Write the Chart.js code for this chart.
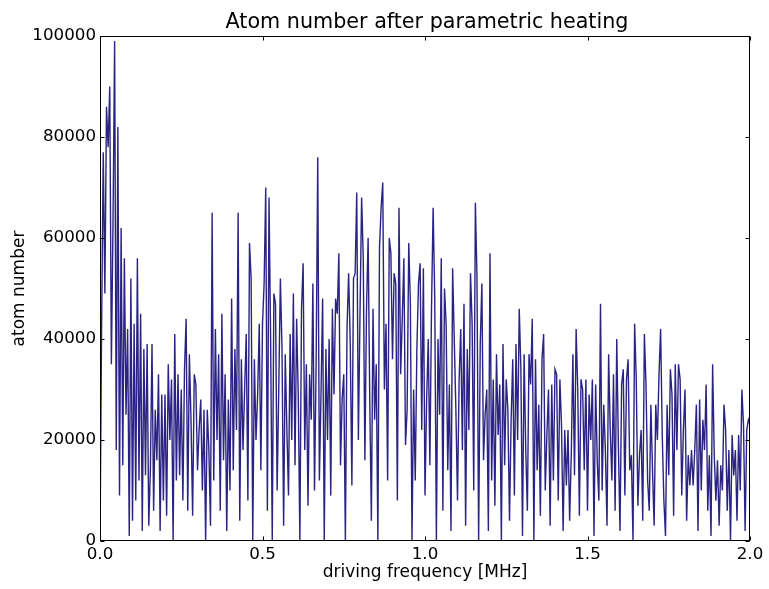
<!DOCTYPE html>
<html>
<head>
<meta charset="utf-8">
<title>Atom number after parametric heating</title>
<script src="https://cdn.jsdelivr.net/npm/chart.js@4/dist/chart.umd.min.js"></script>
<style>
  html, body { margin: 0; padding: 0; background: #fff; }
  #wrap { width: 769px; height: 589px; }
</style>
</head>
<body>
<div id="wrap"><canvas id="chart" width="769" height="589"></canvas></div>
<script>
// frequency sweep: 0 to 2.0 MHz in 5 kHz steps
const freqStart = 0;
const freqStep = 0.005;

// atom number left after each heating run, one row per 0.1 MHz
const atomNumber = [
  0, 43000, 77000, 49000, 86000, 78000, 90000, 35000, 63000, 99000, 18000, 82000, 9000, 62000, 15000, 56000, 25000, 42000, 1000, 52000,
  4000, 43000, 8000, 56000, 12000, 45000, 2000, 38000, 13000, 39000, 3000, 14000, 39000, 6000, 26000, 16000, 33000, 2000, 29000, 8000,
  29000, 5000, 35000, 20000, 32000, 0, 41000, 12000, 33000, 13000, 30000, 8000, 34000, 44000, 6000, 37000, 24000, 5000, 33000, 31000,
  14000, 22000, 28000, 10000, 26000, 0, 26000, 18000, 3000, 65000, 12000, 42000, 20000, 37000, 6000, 45000, 16000, 33000, 2000, 28000,
  10000, 48000, 14000, 38000, 22000, 65000, 4000, 36000, 18000, 30000, 41000, 8000, 59000, 52000, 0, 36000, 20000, 29000, 43000, 14000,
  43000, 51000, 70000, 6000, 68000, 40000, 0, 49000, 47000, 10000, 30000, 52000, 38000, 3000, 37000, 22000, 9000, 41000, 20000, 49000,
  15000, 44000, 29000, 0, 46000, 55000, 18000, 35000, 7000, 33000, 24000, 51000, 10000, 35000, 76000, 12000, 29000, 48000, 0, 38000,
  20000, 40000, 9000, 46000, 29000, 48000, 45000, 57000, 15000, 28000, 33000, 0, 42000, 53000, 39000, 11000, 52000, 53000, 69000, 20000,
  45000, 68000, 56000, 16000, 46000, 60000, 28000, 4000, 46000, 24000, 35000, 0, 58000, 66000, 71000, 30000, 43000, 12000, 60000, 57000,
  36000, 53000, 51000, 8000, 66000, 33000, 44000, 56000, 19000, 26000, 59000, 47000, 0, 30000, 12000, 38000, 51000, 55000, 22000, 54000,
  9000, 28000, 40000, 15000, 46000, 66000, 48000, 0, 40000, 25000, 56000, 6000, 50000, 43000, 14000, 31000, 2000, 54000, 40000, 26000,
  8000, 32000, 42000, 18000, 47000, 3000, 38000, 22000, 53000, 43000, 10000, 67000, 52000, 0, 39000, 51000, 16000, 25000, 30000, 2000,
  57000, 12000, 32000, 7000, 37000, 21000, 31000, 0, 39000, 15000, 32000, 26000, 4000, 24000, 36000, 9000, 39000, 20000, 46000, 34000,
  1000, 37000, 18000, 6000, 37000, 31000, 44000, 0, 36000, 14000, 27000, 5000, 36000, 41000, 10000, 21000, 30000, 3000, 31000, 12000,
  34000, 33000, 8000, 32000, 23000, 2000, 22000, 11000, 22000, 4000, 17000, 37000, 13000, 42000, 30000, 5000, 32000, 30000, 14000, 32000,
  6000, 29000, 20000, 32000, 1000, 31000, 16000, 8000, 47000, 10000, 27000, 18000, 3000, 37000, 22000, 12000, 33000, 6000, 40000, 19000,
  2000, 31000, 34000, 9000, 32000, 36000, 14000, 17000, 0, 43000, 32000, 7000, 17000, 22000, 4000, 41000, 31000, 12000, 6000, 27000,
  14000, 3000, 27000, 20000, 33000, 42000, 21000, 8000, 1000, 27000, 13000, 34000, 29000, 5000, 35000, 18000, 35000, 32000, 9000, 22000,
  30000, 4000, 17000, 11000, 18000, 11000, 18000, 27000, 2000, 28000, 10000, 24000, 18000, 31000, 6000, 17000, 1000, 35000, 17000, 8000,
  16000, 3000, 15000, 10000, 27000, 22000, 6000, 18000, 0, 21000, 13000, 18000, 4000, 21000, 10000, 30000, 23000, 2000, 22000, 24000,
  23000
];

const xTicks = [0, 0.5, 1.0, 1.5, 2.0];
const yTicks = [0, 20000, 40000, 60000, 80000, 100000];

const points = atomNumber.map((n, i) => ({ x: freqStart + i * freqStep, y: n }));

const FONT = '"DejaVu Sans", "Liberation Sans", sans-serif';

// black box round the plot, inward ticks on all four sides, and the title
const framePlugin = {
  id: 'frame',
  afterDraw(chart) {
    const { ctx, chartArea: a, scales } = chart;
    const L = Math.round(a.left) + 0.5, R = Math.round(a.right) - 0.5;
    const T = Math.round(a.top) + 0.5, B = Math.round(a.bottom) - 0.5;
    ctx.save();
    ctx.strokeStyle = '#000';
    ctx.lineWidth = 1;
    ctx.strokeRect(L, T, R - L, B - T);
    ctx.beginPath();
    xTicks.forEach(v => {
      const px = Math.round(scales.x.getPixelForValue(v)) + 0.5;
      ctx.moveTo(px, B); ctx.lineTo(px, B - 4);
      ctx.moveTo(px, T); ctx.lineTo(px, T + 4);
    });
    yTicks.forEach(v => {
      const py = Math.round(scales.y.getPixelForValue(v)) + 0.5;
      ctx.moveTo(L, py); ctx.lineTo(L + 4, py);
      ctx.moveTo(R, py); ctx.lineTo(R - 4, py);
    });
    ctx.stroke();

    ctx.fillStyle = '#000';
    ctx.font = '20.7px ' + FONT;
    ctx.textAlign = 'center';
    ctx.textBaseline = 'alphabetic';
    ctx.fillText('Atom number after parametric heating', (a.left + a.right) / 2 + 2, 28);
    ctx.restore();
  }
};

new Chart(document.getElementById('chart'), {
  type: 'line',
  data: {
    datasets: [{
      data: points,
      borderColor: '#2b2384',
      borderWidth: 1.4,
      pointRadius: 0,
      tension: 0,
      fill: false
    }]
  },
  options: {
    responsive: false,
    animation: false,
    events: [],
    layout: { padding: { top: 36, right: 19, left: 0, bottom: 0 } },
    plugins: {
      legend: { display: false },
      tooltip: { enabled: false },
      title: { display: false }
    },
    scales: {
      x: {
        type: 'linear',
        min: 0,
        max: 2.0,
        afterFit: s => { s.height = 48; },
        afterBuildTicks: s => { s.ticks = xTicks.map(v => ({ value: v })); },
        grid: { display: false, drawTicks: false },
        border: { display: false },
        ticks: {
          padding: 4,
          color: '#000',
          font: { family: FONT, size: 16.7 },
          maxRotation: 0,
          callback: v => v.toFixed(1)
        },
        title: {
          display: true,
          text: 'driving frequency [MHz]',
          color: '#000',
          font: { family: FONT, size: 17 },
          padding: { top: 0, bottom: 6 }
        }
      },
      y: {
        min: 0,
        max: 100000,
        afterFit: s => { s.width = 100; },
        afterBuildTicks: s => { s.ticks = yTicks.map(v => ({ value: v })); },
        grid: { display: false, drawTicks: false },
        border: { display: false },
        ticks: {
          padding: 4,
          color: '#000',
          font: { family: FONT, size: 16.7 },
          callback: v => String(v)
        },
        title: {
          display: true,
          text: 'atom number',
          color: '#000',
          font: { family: FONT, size: 17 },
          padding: { top: 9, bottom: 0 }
        }
      }
    }
  },
  plugins: [framePlugin]
});
</script>
</body>
</html>
